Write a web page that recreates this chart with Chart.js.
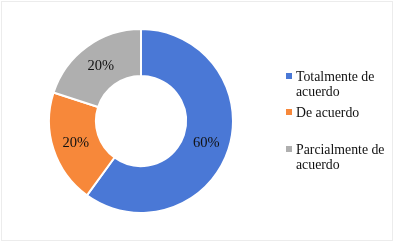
<!DOCTYPE html>
<html>
<head>
<meta charset="utf-8">
<script src="https://cdn.jsdelivr.net/npm/chart.js@4"></script>
<style>
  html, body { margin: 0; padding: 0; background: #fff; }
  #wrap { position: relative; width: 395px; height: 242px; overflow: hidden; }
  #frame { position: absolute; left: 1px; top: 1px; width: 390px; height: 238px; border: 1px solid #ececec; }
  #legend { position: absolute; left: 285px; top: 69px; font-family: "Liberation Serif", "Times New Roman", serif;
            font-size: 13.8px; line-height: 15px; color: #111; }
  .item { position: relative; padding-left: 11px; }
  .item span.box { position: absolute; left: 1px; top: 4px; width: 6px; height: 6px; }
</style>
</head>
<body>
<div id="wrap">
  <canvas id="pieChart" width="395" height="242"></canvas>
  <div id="frame"></div>
  <div id="legend"></div>
</div>
<script>
// chart values
const categories = ["Totalmente de acuerdo", "De acuerdo", "Parcialmente de acuerdo"];
const legendLines = [["Totalmente de", "acuerdo"], ["De acuerdo"], ["Parcialmente de", "acuerdo"]];
const percentages = [60, 20, 20];
const sliceColors = ["#4a78d6", "#f7883a", "#afafaf"];

// legend gaps between items (px)
const legendGaps = [6, 22, 0];

// build html legend
const legendBox = document.getElementById("legend");
categories.forEach((cat, i) => {
  const item = document.createElement("div");
  item.className = "item";
  item.style.marginBottom = legendGaps[i] + "px";
  const box = document.createElement("span");
  box.className = "box";
  box.style.background = sliceColors[i];
  item.appendChild(box);
  legendLines[i].forEach((line) => {
    const d = document.createElement("div");
    d.textContent = line;
    item.appendChild(d);
  });
  legendBox.appendChild(item);
});

// draw percentage labels inside the slices
const sliceLabels = {
  id: "sliceLabels",
  afterDatasetsDraw(chart) {
    const { ctx } = chart;
    const meta = chart.getDatasetMeta(0);
    ctx.save();
    ctx.font = "14.5px 'Liberation Serif', 'Times New Roman', serif";
    ctx.fillStyle = "#111";
    ctx.textAlign = "center";
    ctx.textBaseline = "middle";
    meta.data.forEach((arc, i) => {
      const pos = arc.tooltipPosition();
      ctx.fillText(percentages[i] + "%", pos.x, pos.y + 1);
    });
    ctx.restore();
  },
};

const pieChart = new Chart(document.getElementById("pieChart"), {
  type: "doughnut",
  data: {
    labels: categories,
    datasets: [
      {
        data: percentages,
        backgroundColor: sliceColors,
        borderColor: "#ffffff",
        borderWidth: 2,
      },
    ],
  },
  options: {
    responsive: false,
    animation: false,
    cutout: "49%",
    layout: { padding: { left: 48, right: 161, top: 28, bottom: 28 } },
    plugins: {
      legend: { display: false },
      tooltip: { enabled: false },
    },
  },
  plugins: [sliceLabels],
});
</script>
</body>
</html>
